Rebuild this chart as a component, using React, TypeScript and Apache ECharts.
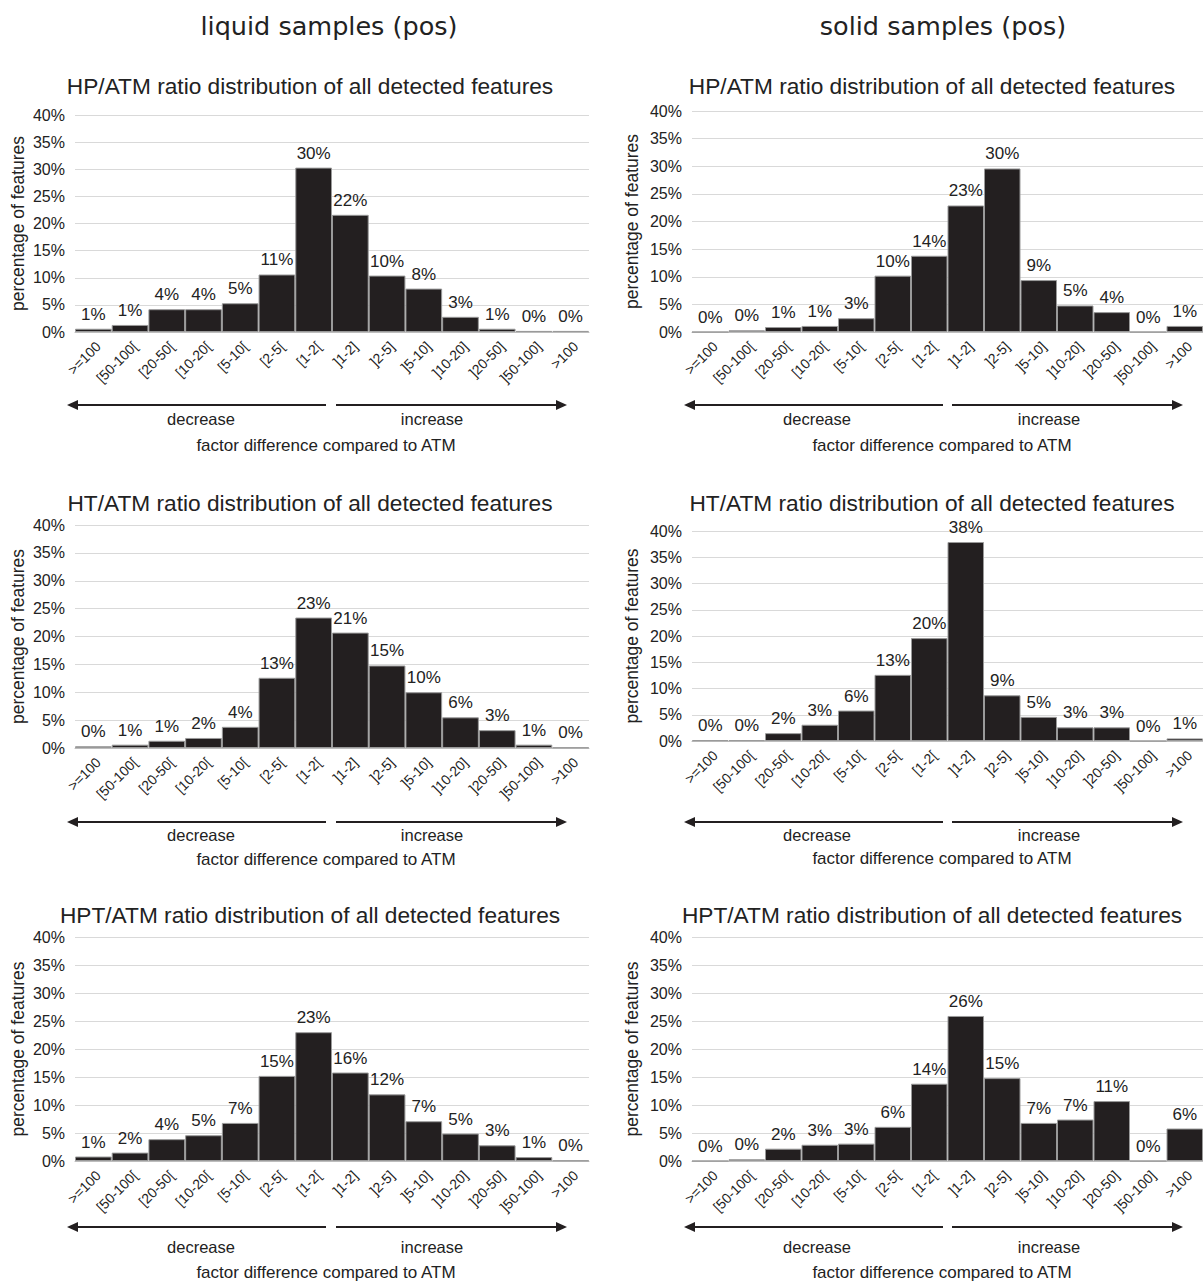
import React, { useEffect, useRef } from "react";
import * as echarts from "echarts";

const categories = [">=100", "[50-100[", "[20-50[", "[10-20[", "[5-10[", "[2-5[", "[1-2[", "]1-2]", "]2-5]", "]5-10]", "]10-20]", "]20-50]", "]50-100]", ">100"];
const yTicks = [0, 5, 10, 15, 20, 25, 30, 35, 40];

const liquidHP = [0.6, 1.3, 4.2, 4.2, 5.3, 10.6, 30.3, 21.6, 10.4, 8.0, 2.8, 0.6, 0.2, 0.2];
const liquidHT = [0.3, 0.6, 1.3, 1.8, 3.8, 12.6, 23.4, 20.7, 14.8, 10.0, 5.5, 3.2, 0.6, 0.1];
const liquidHPT = [0.8, 1.5, 3.9, 4.6, 6.8, 15.2, 23.0, 15.8, 11.9, 7.1, 4.9, 2.8, 0.7, 0.1];
const solidHP = [0, 0.3, 0.9, 1.1, 2.5, 10.2, 13.8, 22.9, 29.6, 9.4, 4.8, 3.6, 0, 1.1];
const solidHT = [0.15, 0.15, 1.5, 3.1, 5.8, 12.6, 19.6, 37.9, 8.7, 4.6, 2.6, 2.6, 0, 0.5];
const solidHPT = [0, 0.3, 2.2, 2.9, 3.1, 6.1, 13.8, 25.9, 14.8, 6.8, 7.4, 10.7, 0, 5.8];

const headers = ["liquid samples (pos)", "solid samples (pos)"];
const titles = [
  "HP/ATM ratio distribution of all detected features",
  "HT/ATM ratio distribution of all detected features",
  "HPT/ATM ratio distribution of all detected features",
];
const sideLabels = ["decrease", "increase"];
const xName = "factor difference compared to ATM";
const yName = "percentage of features";

const FONT = "'Liberation Sans', Arial, sans-serif";

export default function App() {
  const ref = useRef<HTMLDivElement>(null);
  useEffect(() => {
    if (!ref.current) return;
    const chart = echarts.init(ref.current, null, { renderer: "svg" });

    const panels = [
      { data: liquidHP, title: titles[0], col: 0, top: 115, bottom: 332, titleY: 86, rowY: [405, 419, 445] },
      { data: solidHP, title: titles[0], col: 1, top: 111, bottom: 332, titleY: 86, rowY: [405, 419, 445] },
      { data: liquidHT, title: titles[1], col: 0, top: 525, bottom: 748, titleY: 503, rowY: [822, 835, 859] },
      { data: solidHT, title: titles[1], col: 1, top: 531, bottom: 741, titleY: 503, rowY: [822, 835, 858] },
      { data: liquidHPT, title: titles[2], col: 0, top: 937, bottom: 1161, titleY: 915, rowY: [1227, 1247, 1272] },
      { data: solidHPT, title: titles[2], col: 1, top: 937, bottom: 1161, titleY: 915, rowY: [1227, 1247, 1272] },
    ];
    const cols = [
      { left: 75, nameGap: 48, titleX: 310, headerX: 329, tipL: 67, endL: 326, startR: 336, tipR: 567, decX: 201, incX: 432, facX: 326 },
      { left: 692, nameGap: 51, titleX: 932, headerX: 943, tipL: 684, endL: 943, startR: 952, tipR: 1183, decX: 817, incX: 1049, facX: 942 },
    ];

    const grids: any[] = [];
    const xAxes: any[] = [];
    const yAxes: any[] = [];
    const series: any[] = [];
    const graphics: any[] = [];

    const txt = (x: number, y: number, text: string, size: number, family = FONT) => ({
      type: "text",
      x,
      y,
      style: {
        text,
        fontSize: size,
        fontFamily: family,
        fill: "#222",
        textAlign: "center",
        textVerticalAlign: "middle",
      },
    });

    headers.forEach((h, i) => {
      graphics.push(txt(cols[i].headerX, 26, h, 25.5, "'DejaVu Sans', Verdana, sans-serif"));
    });

    panels.forEach((p, i) => {
      const c = cols[p.col];
      grids.push({ left: c.left, top: p.top, width: 514, height: p.bottom - p.top, containLabel: false });
      xAxes.push({
        type: "category",
        gridIndex: i,
        data: categories,
        axisTick: { show: false },
        axisLine: { lineStyle: { color: "#bdbdbd", width: 1 } },
        axisLabel: { rotate: 45, interval: 0, fontSize: 14, color: "#222", margin: 7, verticalAlign: "top", fontFamily: FONT },
      });
      yAxes.push({
        type: "value",
        gridIndex: i,
        min: yTicks[0],
        max: yTicks[yTicks.length - 1],
        interval: yTicks[1] - yTicks[0],
        axisLine: { show: false },
        axisTick: { show: false },
        splitLine: { lineStyle: { color: "#d9d9d9", width: 1 } },
        axisLabel: { formatter: "{value}%", fontSize: 16, color: "#222", margin: 10, fontFamily: FONT },
        name: yName,
        nameLocation: "middle",
        nameGap: c.nameGap,
        nameTextStyle: { fontSize: 17.5, color: "#222", fontFamily: FONT },
      });
      series.push({
        type: "bar",
        xAxisIndex: i,
        yAxisIndex: i,
        data: p.data,
        barCategoryGap: "0%",
        itemStyle: { color: "#231f20", borderColor: "#9a9a9a", borderWidth: 1 },
        label: {
          show: true,
          position: "top",
          distance: 6,
          fontSize: 17,
          color: "#222",
          fontFamily: FONT,
          formatter: (d: any) => Math.round(d.value) + "%",
        },
      });

      graphics.push(txt(c.titleX, p.titleY, p.title, 22.7));
      const [ay, ly, fy] = p.rowY;
      graphics.push({ type: "line", shape: { x1: c.tipL + 8, y1: ay, x2: c.endL, y2: ay }, style: { stroke: "#231f20", lineWidth: 2 } });
      graphics.push({ type: "polygon", shape: { points: [[c.tipL, ay], [c.tipL + 11, ay - 5], [c.tipL + 11, ay + 5]] }, style: { fill: "#231f20" } });
      graphics.push({ type: "line", shape: { x1: c.startR, y1: ay, x2: c.tipR - 8, y2: ay }, style: { stroke: "#231f20", lineWidth: 2 } });
      graphics.push({ type: "polygon", shape: { points: [[c.tipR, ay], [c.tipR - 11, ay - 5], [c.tipR - 11, ay + 5]] }, style: { fill: "#231f20" } });
      graphics.push(txt(c.decX, ly, sideLabels[0], 16.5));
      graphics.push(txt(c.incX, ly, sideLabels[1], 16.5));
      graphics.push(txt(c.facX, fy, xName, 17));
    });

    chart.setOption({
      animation: false,
      backgroundColor: "#ffffff",
      textStyle: { fontFamily: FONT },
      grid: grids,
      xAxis: xAxes,
      yAxis: yAxes,
      series,
      graphic: graphics,
    });
    return () => chart.dispose();
  }, []);

  return (
    <div
      ref={ref}
      style={{ position: "absolute", left: 0, top: 0, width: 1203, height: 1281, background: "#fff" }}
    />
  );
}
